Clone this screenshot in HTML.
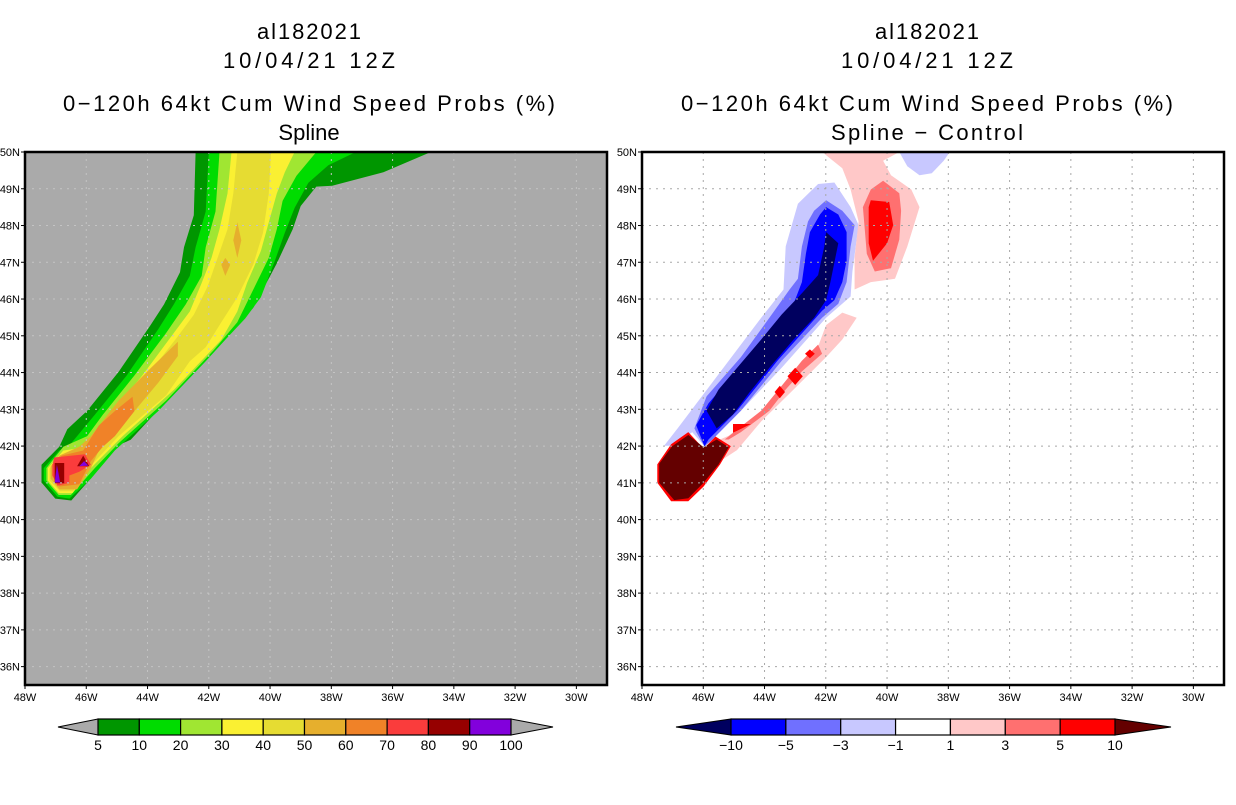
<!DOCTYPE html>
<html><head><meta charset="utf-8"><style>
html,body{margin:0;padding:0;background:#fff;}
svg text{font-family:"Liberation Sans",sans-serif;}
</style></head><body>
<svg id="root" width="1236" height="800" viewBox="0 0 1236 800" xmlns="http://www.w3.org/2000/svg">
<g font-size="22" text-anchor="middle" fill="#000">
<text x="309" y="39" textLength="104">al182021</text>
<text x="309" y="68" textLength="172">10/04/21 12Z</text>
<text x="309" y="111" textLength="492">0−120h 64kt Cum Wind Speed Probs (%)</text>
<text x="309" y="140">Spline</text>
</g>
<g font-size="22" text-anchor="middle" fill="#000">
<text x="927" y="39" textLength="104">al182021</text>
<text x="927" y="68" textLength="172">10/04/21 12Z</text>
<text x="927" y="111" textLength="492">0−120h 64kt Cum Wind Speed Probs (%)</text>
<text x="927" y="140" textLength="192">Spline − Control</text>
</g>
<g id="leftPanel"></g>
<g id="rightPanel"></g>
<g id="leftBar"></g>
<g id="rightBar"></g>
</svg>
<script>
// ---- axis data ----
const lonTicks = [-48,-46,-44,-42,-40,-38,-36,-34,-32,-30];
const latTicks = [36,37,38,39,40,41,42,43,44,45,46,47,48,49,50];
const lonRange = [-48,-29];
const latRange = [35.5,50];

// ---- left panel: probability contour polygons [lon,lat] ----
const probLevels = [5,10,20,30,40,50,60,70,80,90,100];
const probColors = ['#009600','#00dc00','#a0e632','#faf032','#e6dc32','#e6af2d','#f08228','#fa3c3c','#960000','#8200dc'];
const prob5 = [[-42.43,50],[-42.49,48.28],[-42.81,47.41],[-42.94,46.73],[-43.46,45.86],[-43.91,45.28],[-44.94,44.02],[-45.97,42.96],[-46.62,42.46],[-46.88,41.98],[-47.46,41.49],[-47.46,41.01],[-47.01,40.57],[-46.49,40.52],[-45.97,41.01],[-44.94,42.03],[-44.55,42.17],[-41.97,44.5],[-41.59,44.79],[-40.55,45.76],[-39.78,46.97],[-39.26,47.9],[-39.0,48.53],[-38.49,49.06],[-37.97,49.08],[-36.3,49.45],[-34.75,50]];
const prob10 = [[-42.0,50],[-42.1,48.38],[-42.43,47.41],[-42.62,46.63],[-43.14,45.86],[-43.65,45.18],[-44.68,43.92],[-45.72,42.85],[-46.49,42.08],[-46.88,41.88],[-47.39,41.4],[-47.39,41.06],[-46.94,40.62],[-46.55,40.57],[-45.85,41.11],[-45.07,41.88],[-43.65,42.95],[-42.1,44.31],[-41.46,44.89],[-40.81,45.47],[-40.3,46.05],[-39.85,47.02],[-39.52,47.8],[-39.2,48.48],[-38.75,49.16],[-38.1,49.64],[-37.2,50]];
const prob20 = [[-41.65,50],[-41.78,48.38],[-42.1,47.41],[-42.23,46.63],[-42.75,45.86],[-43.39,45.08],[-44.43,43.92],[-45.46,42.85],[-45.97,42.27],[-46.75,41.98],[-47.3,41.4],[-47.3,41.06],[-46.9,40.67],[-46.5,40.67],[-45.72,41.4],[-44.94,42.08],[-43.39,43.24],[-41.85,44.6],[-41.07,45.37],[-40.55,46.25],[-40.04,47.12],[-39.78,47.9],[-39.59,48.67],[-39.14,49.35],[-38.49,50]];
const prob30 = [[-41.26,50],[-41.39,48.87],[-41.65,47.9],[-41.91,47.12],[-42.23,46.44],[-42.62,45.66],[-43.14,45.08],[-44.17,43.92],[-45.33,42.75],[-45.85,41.98],[-46.75,41.88],[-47.25,41.4],[-47.25,41.06],[-46.9,40.72],[-46.45,40.72],[-45.97,41.3],[-44.81,42.27],[-43.14,43.53],[-41.59,44.89],[-41.07,45.66],[-40.75,46.44],[-40.3,47.31],[-40.04,48.09],[-39.78,48.87],[-39.52,49.45],[-39.2,50]];
const prob40 = [[-41.07,50],[-41.2,48.87],[-41.39,47.9],[-41.59,47.41],[-42.04,46.34],[-42.49,45.57],[-43.01,44.99],[-43.91,44.02],[-45.07,42.85],[-45.72,41.98],[-46.62,41.78],[-47.2,41.4],[-47.2,41.06],[-46.85,40.77],[-46.43,40.77],[-46.04,41.3],[-44.94,42.27],[-43.39,43.38],[-42.62,44.31],[-42.1,44.69],[-41.59,45.37],[-41.07,46.05],[-40.55,46.93],[-40.23,47.8],[-40.04,48.87],[-39.97,50]];
const prob50a = [[-43.01,44.84],[-43.01,44.45],[-43.65,43.72],[-44.43,42.95],[-45.07,42.27],[-45.59,41.88],[-45.85,41.4],[-46.3,40.82],[-46.88,40.82],[-47.16,41.11],[-47.16,41.45],[-46.88,41.74],[-46.23,41.98],[-45.85,42.27],[-44.94,43.24],[-43.91,44.11]];
const prob50b = [[-41.07,48.09],[-40.94,47.6],[-41.07,47.12],[-41.2,47.6]];
const prob50c = [[-41.46,47.12],[-41.3,46.93],[-41.46,46.63],[-41.59,46.93]];
const prob60 = [[-44.49,43.34],[-44.43,42.95],[-45.07,42.27],[-45.46,41.98],[-45.85,41.59],[-46.23,40.96],[-46.88,40.9],[-47.12,41.2],[-47.12,41.5],[-46.8,41.74],[-46.1,41.88],[-45.59,42.56],[-45.07,42.95]];
const prob70 = [[-47.05,41.69],[-46.04,41.78],[-45.85,41.49],[-46.23,41.3],[-46.55,41.2],[-46.55,41.0],[-46.94,40.92],[-47.1,41.2],[-47.1,41.49]];
const prob80a = [[-47.03,41.54],[-46.72,41.54],[-46.72,40.99],[-47.03,40.99]];
const prob80b = [[-46.1,41.74],[-45.9,41.45],[-46.3,41.45]];
const prob90a = [[-46.96,41.49],[-46.85,41.01],[-47.03,41.01]];
const prob90b = [[-46.23,41.45],[-45.93,41.47],[-46.07,41.59]];
const probShapes = [[prob5,0],[prob10,1],[prob20,2],[prob30,3],[prob40,4],[prob50a,5],[prob50b,5],[prob50c,5],[prob60,6],[prob70,7],[prob80a,8],[prob80b,8],[prob90a,9],[prob90b,9]];

// ---- right panel: difference contour polygons [lon,lat] ----
const diffLevels = [-10,-5,-3,-1,1,3,5,10];
const diffColors = ['#00005f','#0000ff','#7070ff','#c8c8ff','#ffffff','#ffc8c8','#ff7070','#ff0000','#640000'];
const diffNeg1 = [[-47.28,42.01],[-46.82,42.5],[-45.43,44.03],[-44.11,45.49],[-43.38,46.26],[-43.31,47.43],[-42.91,48.59],[-42.25,49.13],[-41.72,49.17],[-41.19,48.5],[-40.93,48.01],[-41.13,46.75],[-41.19,46.07],[-41.99,45.49],[-43.44,44.13],[-44.77,42.96],[-45.96,41.99],[-46.36,42.38],[-46.95,42.01]];
const diffNeg1Top = [[-39.6,50],[-39.34,49.61],[-38.94,49.37],[-38.54,49.42],[-38.15,49.76],[-37.95,50]];
const diffNeg3 = [[-46.29,42.48],[-45.89,43.35],[-44.77,44.42],[-43.84,45.49],[-43.18,46.26],[-42.91,46.55],[-42.78,47.43],[-42.58,48.11],[-42.38,48.4],[-41.99,48.69],[-41.46,48.4],[-41.06,48.01],[-41.19,47.43],[-41.32,46.46],[-41.59,45.87],[-42.12,45.49],[-43.44,44.32],[-44.77,42.96],[-45.7,42.18],[-45.96,41.99],[-46.23,42.38]];
const diffNeg5 = [[-46.23,42.57],[-45.83,43.16],[-44.64,44.32],[-43.84,45.1],[-43.05,45.87],[-42.78,46.46],[-42.65,47.23],[-42.52,47.82],[-42.19,48.3],[-41.99,48.5],[-41.59,48.3],[-41.32,47.82],[-41.32,47.04],[-41.46,46.46],[-41.72,45.97],[-42.12,45.68],[-43.58,44.32],[-44.9,42.96],[-45.83,42.18],[-45.96,41.99]];
const diffNeg10 = [[-45.89,42.96],[-45.5,43.54],[-44.7,44.32],[-44.11,44.9],[-43.44,45.58],[-42.78,46.16],[-42.25,46.65],[-42.05,47.43],[-41.99,47.82],[-41.59,47.52],[-41.85,46.46],[-41.99,45.97],[-42.38,45.49],[-43.05,44.9],[-43.84,44.13],[-44.5,43.45],[-45.03,42.86],[-45.56,42.48]];
const diffPos1Top = [[-42.12,50],[-41.46,49.56],[-41.19,48.98],[-40.93,48.11],[-41.06,47.14],[-41.06,46.26],[-40.53,46.46],[-39.74,46.55],[-39.34,47.43],[-38.94,48.5],[-39.21,48.98],[-39.87,49.37],[-40.13,49.76],[-39.6,50]];
const diffPos1Low = [[-45.43,41.6],[-45.7,42.09],[-45.17,42.28],[-44.11,42.96],[-43.05,43.83],[-42.25,44.71],[-41.99,45.29],[-41.46,45.63],[-40.99,45.49],[-41.46,44.9],[-41.99,44.42],[-43.05,43.54],[-44.11,42.67],[-44.9,41.89]];
const diffPos3Top = [[-40.79,48.5],[-40.53,48.98],[-40.13,49.22],[-39.6,48.88],[-39.54,48.4],[-39.6,47.62],[-39.87,46.84],[-40.4,46.75],[-40.66,47.23]];
const diffPos3Low = [[-45.3,42.18],[-44.11,42.96],[-43.44,43.64],[-42.78,44.32],[-42.25,44.76],[-42.12,44.51],[-42.78,44.03],[-43.31,43.54],[-43.84,42.96],[-44.77,42.38],[-45.17,42.18]];
const diffPos5Top = [[-40.6,48.5],[-40.53,48.69],[-39.93,48.64],[-39.8,48.01],[-40.0,47.52],[-40.46,47.04],[-40.6,47.52]];
const diffPos5a = [[-42.52,44.63],[-42.36,44.51],[-42.52,44.39],[-42.68,44.51]];
const diffPos5b = [[-43.0,44.13],[-42.75,43.9],[-43.0,43.66],[-43.25,43.9]];
const diffPos5c = [[-43.5,43.64],[-43.33,43.47],[-43.5,43.3],[-43.67,43.47]];
const diffPos5d = [[-45.03,42.6],[-44.44,42.6],[-45.03,42.36]];
const diffPos10Edge = [[-47.5,41.5],[-47.05,42.05],[-46.49,42.38],[-45.99,41.93],[-45.6,42.26],[-45.1,42.0],[-45.45,41.5],[-45.99,40.9],[-46.49,40.5],[-47.05,40.5],[-47.5,41.0]];
const diffPos10 = [[-47.44,41.52],[-47.02,41.99],[-46.49,42.3],[-45.99,41.97],[-45.56,42.18],[-45.17,41.97],[-45.5,41.5],[-45.99,41.0],[-46.49,40.58],[-46.95,40.53],[-47.44,41.0]];
const diffShapes = [[diffNeg1,3],[diffNeg1Top,3],[diffNeg3,2],[diffNeg5,1],[diffNeg10,0],[diffPos1Top,5],[diffPos1Low,5],[diffPos3Top,6],[diffPos3Low,6],[diffPos5Top,7],[diffPos5a,7],[diffPos5b,7],[diffPos5c,7],[diffPos5d,7],[diffPos10Edge,7],[diffPos10,8]];

const NS='http://www.w3.org/2000/svg';
function mk(tag, attrs, parent){const e=document.createElementNS(NS,tag);for(const k in attrs)e.setAttribute(k,attrs[k]);parent.appendChild(e);return e;}

function drawPanel(g, x0, x1, y0, y1, bg, gridColor, shapes, colors, prefix){
  const xs = lon => x0 + (lon-lonRange[0])/(lonRange[1]-lonRange[0])*(x1-x0);
  const ys = lat => y1 - (lat-latRange[0])/(latRange[1]-latRange[0])*(y1-y0);
  const clipId = prefix+'-clip';
  const defs = mk('defs',{},g);
  const cp = mk('clipPath',{id:clipId},defs);
  mk('rect',{x:x0,y:y0,width:x1-x0,height:y1-y0},cp);
  const bgr = mk('rect',{x:x0,y:y0,width:x1-x0,height:y1-y0,fill:bg},g);
  
  
  const sg = mk('g',{'clip-path':'url(#'+clipId+')'},g);
  
  
  shapes.forEach(([pts,ci],i)=>{
    const p = mk('polygon',{points:pts.map(q=>xs(q[0]).toFixed(1)+','+ys(q[1]).toFixed(1)).join(' '),fill:colors[ci]},sg);
    
    
  });
  const gg = mk('g',{stroke:gridColor,'stroke-width':1,'stroke-dasharray':'2,5'},g);
  
  
  lonTicks.forEach(l=>{ if(l>lonRange[0]) mk('line',{x1:xs(l),x2:xs(l),y1:y0,y2:y1},gg); });
  latTicks.forEach(l=>{ if(l<latRange[1]) mk('line',{x1:x0,x2:x1,y1:ys(l),y2:ys(l)},gg); });
  const fr = mk('rect',{x:x0,y:y0,width:x1-x0,height:y1-y0,fill:'none',stroke:'#000','stroke-width':2.5},g);
  
  
  const ax = mk('g',{'font-size':11,fill:'#000'},g);
  
  
  lonTicks.forEach(l=>{
    mk('line',{x1:xs(l),x2:xs(l),y1:y1,y2:y1+4,stroke:'#000','stroke-width':1},ax);
    const t = mk('text',{x:xs(l),y:y1+16,'text-anchor':'middle'},ax);
    t.textContent = Math.abs(l)+'W';
    
    
  });
  latTicks.forEach(l=>{
    mk('line',{x1:x0-4,x2:x0,y1:ys(l),y2:ys(l),stroke:'#000','stroke-width':1},ax);
    const t = mk('text',{x:x0-5,y:ys(l)+4,'text-anchor':'end'},ax);
    t.textContent = l+'N';
    
    
  });
}

function drawBar(g, tipL, bx0, bx1, tipR, y0, y1, colors, labels, endL, endR, prefix){
  const n = colors.length;
  const w = (bx1-bx0)/n;
  const ym=(y0+y1)/2;
  const a = mk('polygon',{points:`${tipL},${ym} ${bx0},${y0} ${bx0},${y1}`,fill:endL,stroke:'#000','stroke-width':1},g);
  
  
  const b = mk('polygon',{points:`${tipR},${ym} ${bx1},${y0} ${bx1},${y1}`,fill:endR,stroke:'#000','stroke-width':1},g);
  
  
  colors.forEach((c,i)=>{
    const r = mk('rect',{x:bx0+i*w,y:y0,width:w,height:y1-y0,fill:c,stroke:'#000','stroke-width':1.2},g);
    
    
  });
  labels.forEach((l,i)=>{
    const t = mk('text',{x:bx0+i*w,y:y1+15,'text-anchor':'middle','font-size':14,fill:'#000'},g);
    t.textContent = String(l).replace('-','−');
    
    
  });
}

drawPanel(document.getElementById('leftPanel'), 25, 607, 152, 685, '#aaaaaa', '#c4c4c4', probShapes, probColors, 'left');
drawPanel(document.getElementById('rightPanel'), 642, 1224, 152, 685, '#ffffff', '#a8a8a8', diffShapes, diffColors, 'right');
drawBar(document.getElementById('leftBar'), 58, 98, 511, 553, 719, 735, probColors, probLevels, '#aaaaaa', '#aaaaaa', 'left-colorbar');
drawBar(document.getElementById('rightBar'), 676, 731, 1115, 1171, 719, 735, diffColors.slice(1,8), diffLevels, diffColors[0], diffColors[8], 'right-colorbar');
</script>
</body></html>
